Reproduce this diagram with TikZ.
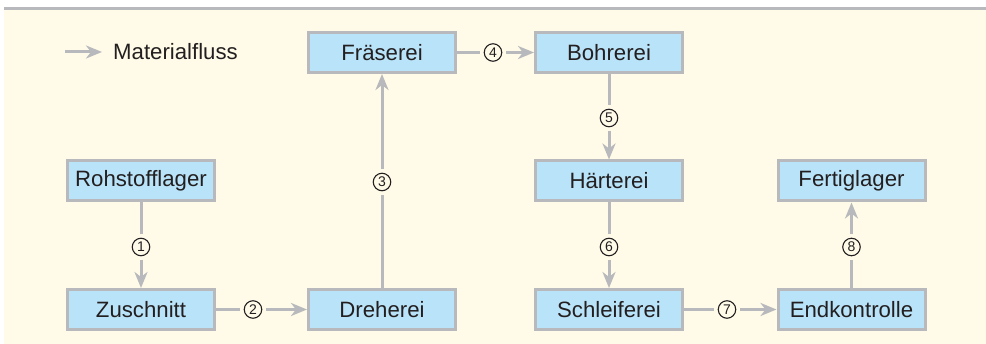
\documentclass[tikz,border=0pt]{standalone}
\usepackage{fontspec}
\setmainfont{Liberation Sans}
\usetikzlibrary{arrows.meta}
\definecolor{paper}{HTML}{FFFBE8}
\definecolor{boxfill}{HTML}{B9E3F8}
\definecolor{framegray}{HTML}{B8B9BC}
\definecolor{ink}{HTML}{231F20}
\tikzset{
  station/.style={draw=framegray, line width=3pt, fill=boxfill,
    minimum width=147pt, minimum height=40pt, inner sep=0pt,
    font=\fontsize{22.2}{24}\selectfont, text=ink},
  stepno/.style={circle, draw=ink, line width=1.1pt, minimum size=17.5pt,
    inner sep=0pt, outer sep=4pt, font=\fontsize{14}{14}\selectfont, text=ink},
  flow/.style={draw=framegray, line width=3pt},
  flowarrow/.style={flow, -{Stealth[length=16pt,width=13pt,inset=5pt]}},
}
\begin{document}
\begin{tikzpicture}[x=1pt,y=-1pt]
\useasboundingbox (0,0) rectangle (986,344);
% background panel and top rule
\fill[paper] (4,9) rectangle (986,344);
\fill[framegray] (4,7) rectangle (986,10);

% legend
\coordinate (legA) at (65,52);
\coordinate (legB) at (102,52);
\draw[flowarrow] (legA) -- (legB);
\node[anchor=west, inner sep=0pt, font=\fontsize{22.2}{24}\selectfont, text=ink] (legtext) at (113,52) {Materialfluss};

% stations
\node[station] (roh) at (141,181) {Rohstofflager};
\node[station] (zus) at (141,309.5) {Zuschnitt};
\node[station] (dre) at (382,309.5) {Dreherei};
\node[station] (fra) at (382,52.5) {Fräserei};
\node[station] (bor) at (609,52.5) {Bohrerei};
\node[station] (hae) at (609,181) {Härterei};
\node[station] (sch) at (609,309.5) {Schleiferei};
\node[station] (end) at (851.5,309.5) {Endkontrolle};
\node[station] (fer) at (851.5,181) {Fertiglager};

% step numbers
\node[stepno] (s1) at (141,247) {1};
\node[stepno] (s2) at (253,309.5) {2};
\node[stepno] (s3) at (382,182) {3};
\node[stepno] (s4) at (493,52.5) {4};
\node[stepno] (s5) at (609,118) {5};
\node[stepno] (s6) at (609,247) {6};
\node[stepno] (s7) at (727,309.5) {7};
\node[stepno] (s8) at (851.5,247) {8};

% material flow
\draw[flow] (roh) -- (s1); \draw[flowarrow] (s1) -- (zus);
\draw[flow] (zus) -- (s2); \draw[flowarrow] (s2) -- (dre);
\draw[flow] (dre) -- (s3); \draw[flowarrow] (s3) -- (fra);
\draw[flow] (fra) -- (s4); \draw[flowarrow] (s4) -- (bor);
\draw[flow] (bor) -- (s5); \draw[flowarrow] (s5) -- (hae);
\draw[flow] (hae) -- (s6); \draw[flowarrow] (s6) -- (sch);
\draw[flow] (sch) -- (s7); \draw[flowarrow] (s7) -- (end);
\draw[flow] (end) -- (s8); \draw[flowarrow] (s8) -- (fer);
\end{tikzpicture}
\end{document}
